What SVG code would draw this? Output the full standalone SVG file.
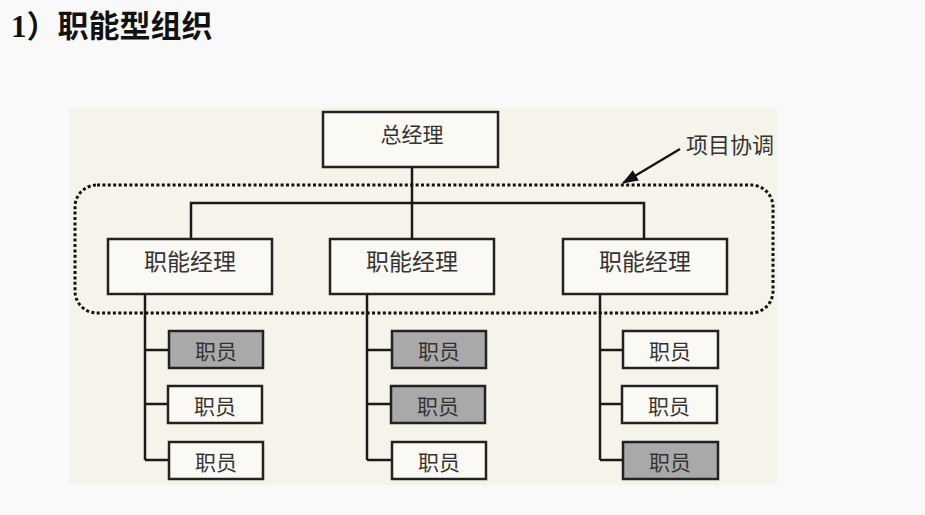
<svg xmlns="http://www.w3.org/2000/svg" width="925" height="515" viewBox="0 0 925 515">
<defs>
<style>
.box{fill:#fbf9f3;stroke:#222;stroke-width:2.5}
.gray{fill:#a9a9a9;stroke:#222;stroke-width:2.5}
.t{font-family:"Noto Sans CJK SC","Noto Sans",sans-serif;font-size:21px;fill:#333;text-anchor:middle}
.fm{font-size:23px}
.ln{stroke:#1a1a1a;stroke-width:2.5;fill:none}
</style>
<marker id="ah" markerWidth="16" markerHeight="12" refX="15" refY="6" orient="auto" markerUnits="userSpaceOnUse">
<path d="M0,0 L16,6 L0,12 Z" fill="#111"/>
</marker>
</defs>
<rect x="0" y="0" width="925" height="515" fill="#f9f9f9"/>
<text x="11" y="37" font-family="'Liberation Serif','Noto Sans CJK SC',serif" font-size="31" font-weight="bold" fill="#111">1）职能型组织</text>
<rect x="69" y="108" width="708" height="377" fill="#f6f3ea"/>

<g id="connectors">
<line class="ln" x1="412" y1="167" x2="412" y2="239"/>
<polyline class="ln" points="191,239 191,203 644,203 644,239"/>
<line class="ln" x1="145" y1="294" x2="145" y2="460"/>
<polyline class="ln" points="145,350 169,350"/>
<polyline class="ln" points="145,404 169,404"/>
<polyline class="ln" points="145,460 169,460"/>
<line class="ln" x1="367" y1="294" x2="367" y2="460"/>
<polyline class="ln" points="367,350 392,350"/>
<polyline class="ln" points="367,404 392,404"/>
<polyline class="ln" points="367,460 392,460"/>
<line class="ln" x1="600" y1="294" x2="600" y2="460"/>
<polyline class="ln" points="600,350 623,350"/>
<polyline class="ln" points="600,404 623,404"/>
<polyline class="ln" points="600,460 623,460"/>
<line x1="680" y1="149" x2="623" y2="183" stroke="#111" stroke-width="2.2" marker-end="url(#ah)"/>
</g>

<g id="coordination">
<rect x="75" y="185" width="698" height="128" rx="22" ry="22" fill="none" stroke="#111" stroke-width="3" stroke-dasharray="3 2.4"/>
<text class="t" x="730" y="153" style="font-size:22px">项目协调</text>
</g>

<g id="gm"><rect class="box" x="323" y="112" width="175" height="55"/><text class="t" x="412" y="142">总经理</text></g>

<g id="fm1"><rect class="box" x="108" y="239" width="164" height="55"/><text class="t fm" x="190" y="270">职能经理</text></g>
<g id="fm2"><rect class="box" x="330" y="239" width="164" height="55"/><text class="t fm" x="412" y="270">职能经理</text></g>
<g id="fm3"><rect class="box" x="563" y="239" width="164" height="55"/><text class="t fm" x="645" y="270">职能经理</text></g>

<g id="e11"><rect class="gray" x="169" y="331" width="94" height="37"/><text class="t" x="216" y="359">职员</text></g>
<g id="e12"><rect class="box" x="168" y="386" width="94" height="37"/><text class="t" x="215" y="414">职员</text></g>
<g id="e13"><rect class="box" x="169" y="442" width="94" height="37"/><text class="t" x="216" y="470">职员</text></g>

<g id="e21"><rect class="gray" x="392" y="331" width="94" height="37"/><text class="t" x="439" y="359">职员</text></g>
<g id="e22"><rect class="gray" x="391" y="386" width="94" height="37"/><text class="t" x="438" y="414">职员</text></g>
<g id="e23"><rect class="box" x="392" y="442" width="94" height="37"/><text class="t" x="439" y="470">职员</text></g>

<g id="e31"><rect class="box" x="623" y="331" width="95" height="37"/><text class="t" x="670" y="359">职员</text></g>
<g id="e32"><rect class="box" x="622" y="386" width="95" height="37"/><text class="t" x="669" y="414">职员</text></g>
<g id="e33"><rect class="gray" x="623" y="442" width="95" height="37"/><text class="t" x="670" y="470">职员</text></g>
</svg>
